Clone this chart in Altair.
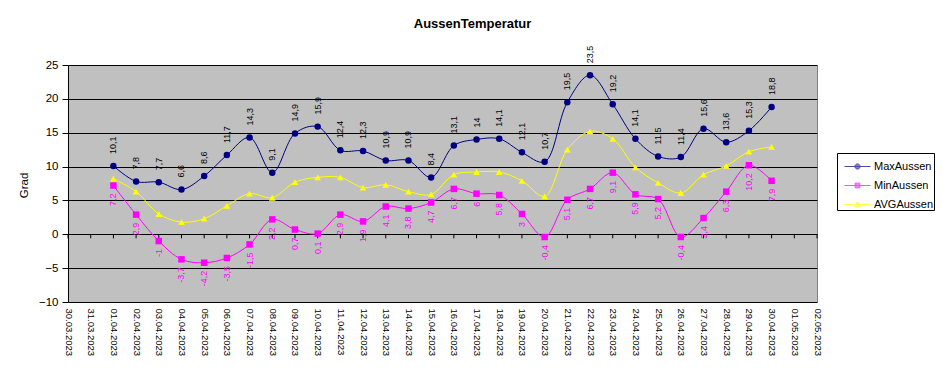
import altair as alt
import pandas as pd

# ---- data -------------------------------------------------------------
all_dates = ["30.03.2023", "31.03.2023"] + [f"{d:02d}.04.2023" for d in range(1, 31)] + ["01.05.2023", "02.05.2023"]
data_dates = [f"{d:02d}.04.2023" for d in range(1, 31)]

max_aussen = [10.1, 7.8, 7.7, 6.6, 8.6, 11.7, 14.3, 9.1, 14.9, 15.9,
              12.4, 12.3, 10.9, 10.9, 8.4, 13.1, 14, 14.1, 12.1, 10.7,
              19.5, 23.5, 19.2, 14.1, 11.5, 11.4, 15.6, 13.6, 15.3, 18.8]
min_aussen = [7.2, 2.9, -1, -3.7, -4.2, -3.5, -1.5, 2.2, 0.7, 0.1,
              2.9, 1.9, 4.1, 3.8, 4.7, 6.7, 6, 5.8, 3, -0.4,
              5.1, 6.7, 9.1, 5.9, 5.2, -0.4, 2.4, 6.3, 10.2, 7.9]
avg_aussen = [8.2, 6.3, 3.0, 1.8, 2.3, 4.2, 6.0, 5.4, 7.7, 8.4,
              8.4, 6.9, 7.3, 6.3, 5.9, 8.8, 9.2, 9.2, 7.9, 5.6,
              12.5, 15.2, 14.1, 9.9, 7.6, 6.1, 8.8, 10.1, 12.2, 12.9]

series_names = ["MaxAussen", "MinAussen", "AVGAussen"]
series_colors = ["#000080", "#FF00FF", "#FFFF00"]
series_shapes = ["circle", "square", "triangle-up"]
y_ticks = [-10, -5, 0, 5, 10, 15, 20, 25]


def de(v):
    return f"{v:g}".replace(".", ",")


rows = []
for name, vals in zip(series_names, [max_aussen, min_aussen, avg_aussen]):
    for d, v in zip(data_dates, vals):
        rows.append({"Datum": d, "Serie": name, "Wert": v, "Label": de(v)})
df = pd.DataFrame(rows)
df_ticks = pd.DataFrame({"Datum": all_dates, "Wert": [0] * len(all_dates), "Wert2": [-0.6] * len(all_dates)})

FONT = "Liberation Sans"

x_enc = alt.X("Datum:O", scale=alt.Scale(domain=all_dates, type="point", padding=0),
              sort=all_dates,
              axis=alt.Axis(title=None, domain=False, ticks=False, grid=False,
                            labelAngle=90, labelAlign="left", labelBaseline="middle",
                            labelPadding=6, labelFontSize=9.5, labelFont=FONT,
                            labelColor="black", labelOverlap=False))

y_scale = alt.Scale(domain=[-10, 25], nice=False, zero=False)
y_enc = alt.Y("Wert:Q", scale=y_scale,
              axis=alt.Axis(title="Grad", values=y_ticks, tickCount=8, grid=True, gridColor="black",
                            gridOpacity=1, gridWidth=1, domain=True, domainColor="black",
                            ticks=True, tickColor="black", tickSize=6, labelPadding=4,
                            labelFont=FONT, labelFontSize=11.5, labelColor="black",
                            labelOverlap=False,
                            titleFont=FONT, titleFontSize=11.5, titleFontWeight="normal",
                            titleColor="black", titleAngle=-90, titleX=-44, titleY=120,
                            titleAlign="center", titleBaseline="middle"))

base = alt.Chart(df)

layers = []
for name, col in zip(series_names, series_colors):
    layers.append(base.transform_filter(alt.datum.Serie == name).mark_line(
        interpolate="catmull-rom", strokeWidth=1, color=col).encode(x=x_enc, y=y_enc))

ticks0 = alt.Chart(df_ticks).mark_rule(color="black", strokeWidth=1).encode(
    x=x_enc, y=y_enc, y2="Wert2:Q")

legend_paths = [
    "M-1,0L1,0M-0.2,0A0.2,0.2 0 1,0 0.2,0A0.2,0.2 0 1,0 -0.2,0Z",
    "M-1,0L1,0M-0.18,-0.18L0.18,-0.18L0.18,0.18L-0.18,0.18Z",
    "M-1,0L1,0M0,-0.2L0.22,0.17L-0.22,0.17Z",
]
leg = dict(orient="none", legendX=769, legendY=88, title=None, strokeColor="black",
           fillColor="white", padding=0, labelFont=FONT, labelFontSize=11,
           labelColor="black", symbolSize=676, symbolStrokeWidth=1, rowPadding=0,
           symbolOffset=7, labelOffset=3, labelExpr="datum.label + '  '")
legend_layer = base.mark_point(filled=True, size=0).encode(
    x=x_enc, y=y_enc,
    fill=alt.Fill("Serie:N", scale=alt.Scale(domain=series_names, range=series_colors),
                  legend=alt.Legend(**leg)),
    stroke=alt.Stroke("Serie:N", scale=alt.Scale(domain=series_names, range=series_colors),
                      legend=alt.Legend(**leg)),
    shape=alt.Shape("Serie:N", scale=alt.Scale(domain=series_names, range=legend_paths),
                    legend=alt.Legend(**leg)),
)

for name, col, shp in zip(series_names[::-1], series_colors[::-1], series_shapes[::-1]):
    layers.append(base.transform_filter(alt.datum.Serie == name).mark_point(
        shape=shp, filled=True, size=45 if shp == "triangle-up" else 42, color=col,
        opacity=1).encode(x=x_enc, y=y_enc))

lbl_max = base.transform_filter(alt.datum.Serie == "MaxAussen").mark_text(
    angle=270, align="left", baseline="middle", dx=12, fontSize=9, font=FONT, color="black"
).encode(x=x_enc, y=y_enc, text="Label:N")
lbl_min = base.transform_filter(alt.datum.Serie == "MinAussen").mark_text(
    angle=270, align="right", baseline="middle", dx=-8, fontSize=9, font=FONT, color="#FF00FF"
).encode(x=x_enc, y=y_enc, text="Label:N")

chart = alt.layer(ticks0, *layers, lbl_max, lbl_min, legend_layer).properties(
    width=749, height=237,
    background="white",
    title=alt.TitleParams("AussenTemperatur", font=FONT, fontSize=13, fontWeight="bold",
                          color="black", anchor="middle", frame="group", dx=30, offset=5,
                          baseline="alphabetic"),
    autosize=alt.AutoSizeParams(type="none"),
    padding={"left": 60, "top": 57, "right": 118, "bottom": 58},
).configure_view(fill="#C0C0C0", stroke="#808080", strokeWidth=1)

chart.save("out.html", embed_options={"renderer": "svg", "actions": False})
